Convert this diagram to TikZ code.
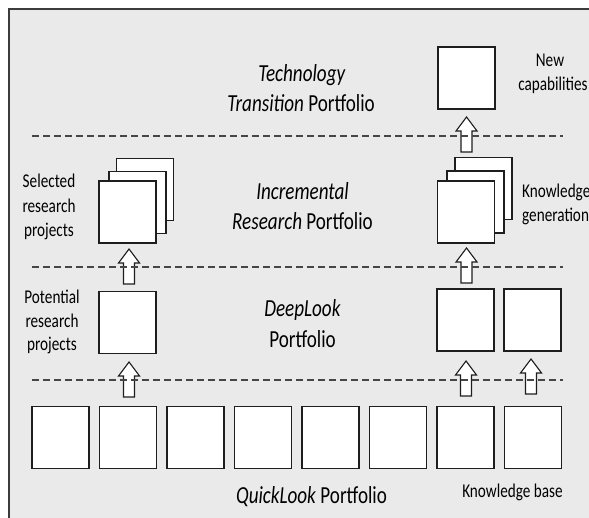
\documentclass[tikz,border=0pt]{standalone}
\usepackage{fontspec}
\setmainfont{Carlito}[FakeStretch=0.78]
\definecolor{bgcol}{RGB}{234,234,234}
\definecolor{framecol}{RGB}{60,60,60}
\definecolor{boxcol}{RGB}{30,30,30}
\definecolor{dashcol}{RGB}{70,70,70}
\definecolor{txtcol}{RGB}{0,0,0}
\tikzset{
  box/.style={draw=boxcol, fill=white, line width=1.3pt, minimum width=57pt, minimum height=62pt, inner sep=0pt},
  bigtxt/.style={font=\fontsize{24.5}{30}\selectfont, text=txtcol, inner sep=0pt, anchor=base},
  smalltxt/.style={font=\fontsize{19.5}{24}\selectfont, text=txtcol, inner sep=0pt, anchor=base},
  sepline/.style={draw=dashcol, line width=1.2pt, dash pattern=on 7pt off 4pt},
  arrline/.style={draw=boxcol, fill=white, line width=1.1pt, line join=miter},
  uparr/.pic={\path[arrline] (-5.5,0) -- (-5.5,-21) -- (-10.5,-21) -- (0,-35) -- (10.5,-21) -- (5.5,-21) -- (5.5,0) -- cycle;}
}
\begin{document}
\begin{tikzpicture}[x=1pt,y=-1pt]
\useasboundingbox (0,0) rectangle (589,518);
% background panel
\fill[bgcol] (9,9) rectangle (589,518);
\draw[framecol, line width=1.8pt] (9,518) -- (9,9) -- (589,9);

% QuickLook row
\foreach \i/\x in {1/60.5,2/128,3/195.5,4/263,5/330.5,6/398,7/465.5,8/533}
  \node[box] (q\i) at (\x,437.5) {};

% DeepLook row
\node[box] (d1) at (127.5,322.5) {};
\node[box] (d2) at (465.5,320) {};
\node[box] (d3) at (532.5,320) {};

% Incremental stacks
\node[box] (ia3) at (145,189.5) {};
\node[box] (ia2) at (137.5,202.5) {};
\node[box] (ia1) at (127.5,212) {};
\node[box] (ib3) at (483.5,188.5) {};
\node[box] (ib2) at (475.5,202) {};
\node[box] (ib1) at (466,212) {};

% Technology
\node[box] (t1) at (466.5,78) {};

% block arrows
\pic at (466.5,152) {uparr};
\pic at (129,284) {uparr};
\pic at (466.5,283) {uparr};
\pic at (129,397) {uparr};
\pic at (466,396) {uparr};
\pic at (531,394) {uparr};

% separators
\path[sepline] (32,136) -- (563,136);
\path[sepline] (32,267) -- (563,267);
\path[sepline] (32,380) -- (563,380);

% portfolio titles
\node[bigtxt] (tt1) at (302,82) {\textit{Technology}};
\node[bigtxt] (tt2) at (301,112) {\textit{Transition} Portfolio};
\node[bigtxt] (it1) at (302.5,200) {\textit{Incremental}};
\node[bigtxt] (it2) at (302.5,230) {\textit{Research} Portfolio};
\node[bigtxt] (dt1) at (302.5,317) {\textit{DeepLook}};
\node[bigtxt] (dt2) at (302.5,348) {Portfolio};
\node[bigtxt] (qt1) at (311.5,503) {\textit{QuickLook} Portfolio};

% side labels
\node[smalltxt] (s1) at (49,188) {Selected};
\node[smalltxt] (s2) at (49,213) {research};
\node[smalltxt] (s3) at (49,237) {projects};
\node[smalltxt] (p1) at (52,304) {Potential};
\node[smalltxt] (p2) at (52,328) {research};
\node[smalltxt] (p3) at (52,351) {projects};
\node[smalltxt] (n1) at (550,67) {New};
\node[smalltxt] (n2) at (553,91) {capabilities};
\node[smalltxt, anchor=base west] (k1) at (522,198) {Knowledge};
\node[smalltxt, anchor=base west] (k2) at (522,222) {generation};
\node[smalltxt] (kb) at (512.5,497) {Knowledge base};
\end{tikzpicture}
\end{document}
